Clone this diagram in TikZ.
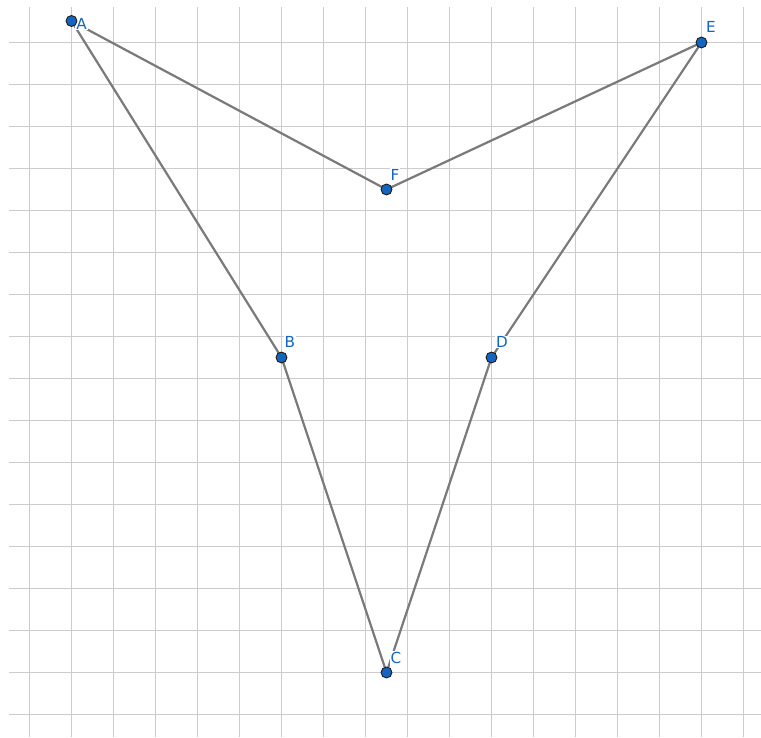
\documentclass[tikz,border=0pt]{standalone}
\usepackage{fontspec}
\setmainfont{DejaVu Sans}
\usetikzlibrary{calc}
\definecolor{gridc}{HTML}{CCCCCC}
\definecolor{segc}{HTML}{7A7A7A}
\definecolor{ptblue}{HTML}{1565C0}
\definecolor{ptedge}{HTML}{1A1A1A}
\begin{document}
\begin{tikzpicture}[
  gridline/.style={draw=gridc, line width=0.7pt},
  seg/.style={draw=segc, line width=1.5pt},
  pt/.style={circle, fill=ptblue, draw=ptedge, line width=0.6pt, minimum size=0.26cm, inner sep=0pt},
  lab/.style={text=ptblue, font=\fontsize{10.3}{12}\selectfont, fill=white, inner sep=0.6pt}
]
\useasboundingbox (0,0) rectangle (18.119,17.571);
\begin{scope}[shift={(0.7024,16.5595)}]
  % grid
  \foreach \i in {0,...,17} \draw[gridline] (\i,-16.536) -- (\i,0.845);
  \foreach \j in {0,...,16} \draw[gridline] (-0.488,-\j) -- (17.417,-\j);
  % points
  \coordinate (A) at (1,0.512);
  \coordinate (E) at (16,0);
  \coordinate (F) at (8.5,-3.5);
  \coordinate (B) at (6,-7.5);
  \coordinate (D) at (11,-7.5);
  \coordinate (C) at (8.5,-15);
  % segments
  \draw[seg] (A) -- (F) -- (E) -- (D) -- (C) -- (B) -- (A);
  % labels
  \node[lab] (lA) at (1.24,0.44) {A};
  \node[lab] (lE) at ($(E)+(0.226,0.369)$) {E};
  \node[lab] (lF) at ($(F)+(0.2,0.35)$) {F};
  \node[lab] (lB) at ($(B)+(0.2,0.37)$) {B};
  \node[lab] (lD) at ($(D)+(0.25,0.37)$) {D};
  \node[lab] (lC) at ($(C)+(0.226,0.345)$) {C};
  % point markers
  \foreach \p in {A,E,F,B,D,C} \node[pt] (p\p) at (\p) {};
\end{scope}
\end{tikzpicture}
\end{document}
